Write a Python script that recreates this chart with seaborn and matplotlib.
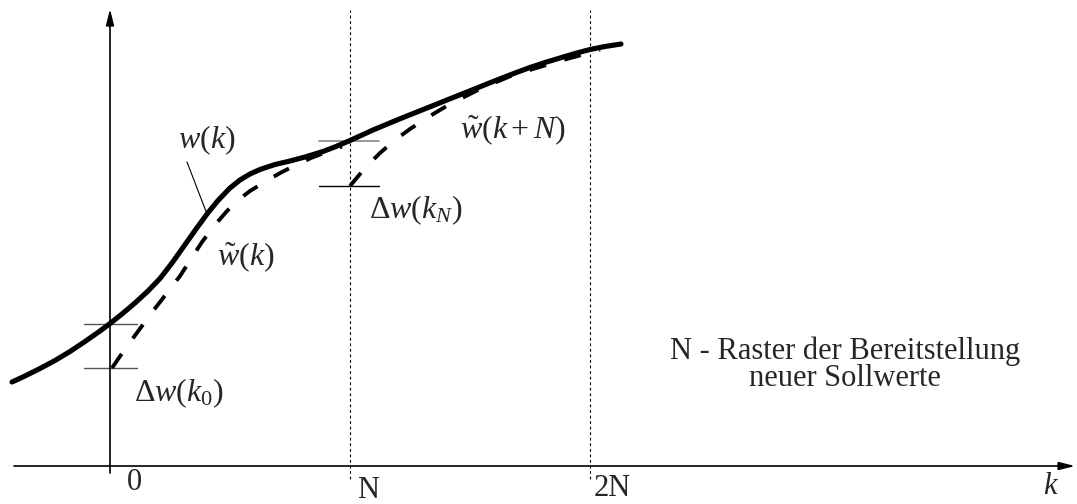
import matplotlib
matplotlib.use("Agg")
import matplotlib.pyplot as plt
import seaborn as sns

# Sampling raster: N steps between two set-point updates
N = 240

# Reference trajectory w(k)
k_w = [-98, -85, -70, -55, -40, -25, -10, 0, 12, 25, 38, 50, 62, 73, 85, 97, 108,
       120, 130, 140, 150, 165, 180, 195, 213, 226, 240, 263, 287, 312, 337, 362,
       387, 405, 420, 435, 450, 465, 480, 495, 511]
w = [84, 90, 97.5, 105.5, 114.5, 124.5, 135, 142.5, 152, 163, 175, 187.5, 203,
     218.5, 235.5, 252, 265.5, 278, 286, 292, 296.5, 301.5, 305, 309, 314.5, 319.5,
     325.5, 336, 346, 356, 366, 376, 386, 393, 398.5, 403.5, 408, 412.5, 416.5,
     419.5, 422]

# Filtered trajectory started at k = 0
k_f0 = [2, 15, 29, 43, 57, 70, 81, 92, 104, 117, 128, 140, 157, 171, 185, 201, 218, 232]
w_f0 = [98, 117, 136, 155, 173, 190, 207, 224, 240, 255, 266, 275, 285.5, 293.5,
        300.5, 308, 314.5, 319.5]

# Filtered trajectory started at k = N
k_fN = [240, 255, 270, 285, 300, 320, 340, 370, 403, 453, 490]
w_fN = [280, 298, 313, 326, 337, 350, 362, 377, 391, 406, 416]

grid_k = [0, N, 2 * N]
grid_labels = ["0", "N", "2N"]

sns.set_theme(style="white")
plt.rcParams["font.family"] = ["Liberation Serif", "DejaVu Serif"]
plt.rcParams["mathtext.fontset"] = "custom"
plt.rcParams["mathtext.rm"] = "Liberation Serif"
plt.rcParams["mathtext.it"] = "Liberation Serif:italic"

fig = plt.figure(figsize=(10.77, 5.04), dpi=100)
ax = fig.add_axes([0, 0, 1, 1])
ax.set_xlim(-110, 967)
ax.set_ylim(-38, 466)
ax.axis("off")

# Coordinate axes with arrow heads
arrow = dict(arrowstyle="-|>,head_length=0.8,head_width=0.2", color="black",
             lw=1.2, shrinkA=0, shrinkB=0)
ax.annotate("", xy=(965, 0), xytext=(-96, 0), arrowprops=arrow)
ax.annotate("", xy=(0, 457), xytext=(0, -7), arrowprops=arrow)

# Raster lines at N and 2N
for kk in grid_k[1:]:
    ax.plot([kk, kk], [-13, 456], color="black", lw=0.8, ls=(0, (2.5, 2.5)))

# Filtered trajectories (dashed)
for kx, wy in [(k_f0, w_f0), (k_fN, w_fN)]:
    sns.lineplot(x=kx, y=wy, ax=ax, sort=False, estimator=None, color="black",
                 lw=2.8, zorder=2)
    ax.lines[-1].set_dashes((4.4, 4.9))
    ax.lines[-1].set_dash_capstyle("butt")

# Reference trajectory (solid)
sns.lineplot(x=k_w, y=w, ax=ax, sort=False, estimator=None, color="black",
             lw=3.7, zorder=3)
ax.lines[-1].set_solid_capstyle("round")
ax.lines[-1].set_solid_joinstyle("round")

# Step markers Delta w at k = 0 and k = N
w_at0 = w[k_w.index(0)]
w_atN = w[k_w.index(N)]
ax.plot([-26, 27], [w_at0, w_at0], color="#555555", lw=1.0, zorder=1)
ax.plot([-26, 27], [w_f0[0], w_f0[0]], color="#555555", lw=1.0, zorder=1)
ax.plot([N - 31, N + 29], [w_atN, w_atN], color="#888888", lw=1.2, zorder=1)
ax.plot([N - 31, N + 29], [w_fN[0], w_fN[0]], color="black", lw=1.0, zorder=1)

fm = 23
i_lead = k_w.index(97)
ax.plot([77, k_w[i_lead]], [304, w[i_lead]], color="black", lw=0.8, zorder=1)
ax.text(97, 326, r"$w(k)$", ha="center", va="center", fontsize=fm)
ax.text(136, 209, r"$\tilde{w}(k)$", ha="center", va="center", fontsize=fm)
ax.text(403, 336, r"$\tilde{w}(k+N)$", ha="center", va="center", fontsize=fm)
ax.text(69, 73, r"$\Delta w(k_0)$", ha="center", va="center", fontsize=fm)
ax.text(306, 256, r"$\Delta w(k_N)$", ha="center", va="center", fontsize=fm)

fs = 22
label_pos = [(24, -16), (258, -24), (502, -23)]
for (x, y), lab in zip(label_pos, grid_labels):
    ax.text(x, y, lab, ha="center", va="center", fontsize=fs)
ax.text(940, -20, "k", ha="center", va="center", fontsize=fs, style="italic")

ax.text(735, 101.5, "N - Raster der Bereitstellung\nneuer Sollwerte",
        ha="center", va="center", fontsize=fs, linespacing=0.92)

fig.savefig("out.png", dpi=100)
